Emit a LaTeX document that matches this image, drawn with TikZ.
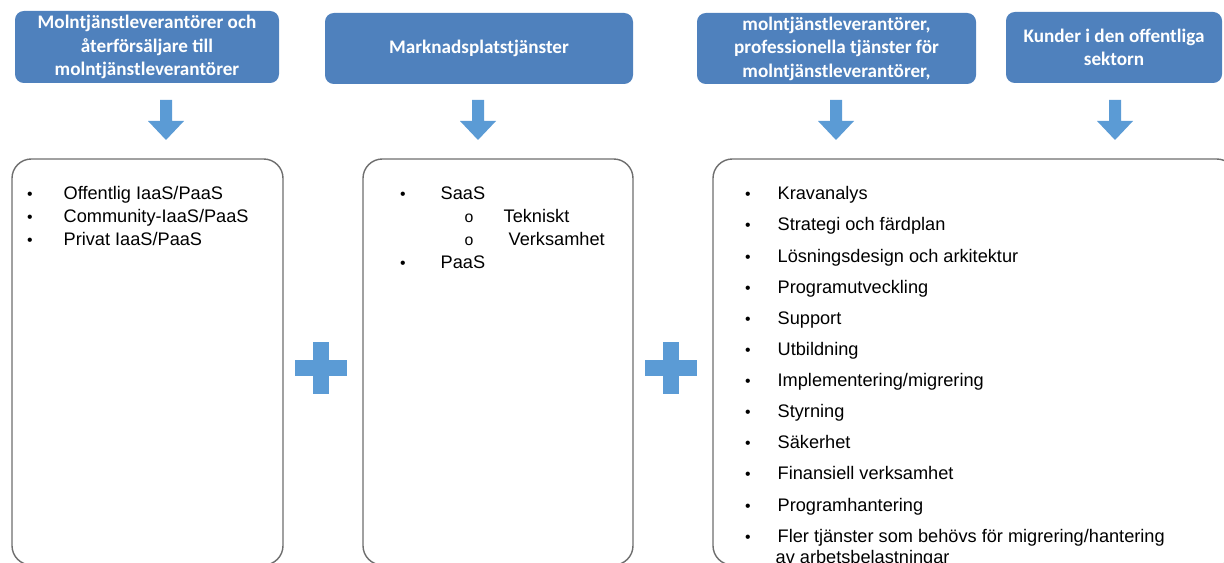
\documentclass[tikz,border=0pt]{standalone}
\usepackage{fontspec}
\setmainfont{Liberation Sans}
\newfontfamily\headfont{Carlito}
\usepackage{tikz}
\usetikzlibrary{positioning}
\definecolor{headblue}{HTML}{4F81BD}
\definecolor{lightblue}{HTML}{5B9BD5}
\definecolor{boxgray}{HTML}{6E6E6E}
\tikzset{every picture/.style={line width=0.75pt}}
\tikzset{
  head/.style={rounded corners=5pt, fill=headblue, draw=none, text=white,
    align=center, inner sep=0pt,
    font=\headfont\bfseries\fontsize{10.9}{13.4}\selectfont},
  listbox/.style={rounded corners=11pt, draw=boxgray, line width=0.8pt, fill=white},
  item/.style={anchor=base west, inner sep=0pt, font=\fontsize{10.35}{12}\selectfont},
  dot/.style={anchor=base, inner sep=0pt, font=\fontsize{9}{10}\selectfont},
  blockarrow/.style={fill=lightblue, draw=none}
}

\begin{document}
\begin{tikzpicture}[x=0.02cm, y=-0.02cm]
\useasboundingbox (0,0) rectangle (1224,563);
\clip (0,0) rectangle (1224,563);
%
\node[head, minimum width=264*0.02cm, minimum height=72*0.02cm] (h1) at (147,47)
  {Molntjänstleverantörer och\\återförsäljare till\\molntjänstleverantörer};
\node[head, minimum width=308*0.02cm, minimum height=71*0.02cm] (h2) at (479,48.5)
  {Marknadsplatstjänster};
\node[head, minimum width=279*0.02cm, minimum height=71*0.02cm] (h3) at (836.5,48.5)
  {molntjänstleverantörer,\\professionella tjänster för\\molntjänstleverantörer,};
\node[head, minimum width=216*0.02cm, minimum height=71*0.02cm] (h4) at (1114,47.5)
  {Kunder i den offentliga\\sektorn};
%
\draw[listbox] (12,159) rectangle (283,565);
\draw[listbox] (363,159) rectangle (633,565);
\draw[listbox] (713,159) rectangle (1236,565);
%
\foreach \X in {166,478,836,1115}
\fill[blockarrow] (\X-6,100) -- (\X+6,100) -- (\X+6,121) -- (\X+18,121)
  -- (\X,140) -- (\X-18,121) -- (\X-6,121) -- cycle;
%
\foreach \X in {321,671}{
\fill[lightblue] (\X-26,360) rectangle (\X+26,376);
\fill[lightblue] (\X-8,342) rectangle (\X+8,394);
}
%
\foreach \Y/\Text [count=\i] in {%
	193/{Offentlig IaaS/PaaS},
	216/{Community-IaaS/PaaS},
	239/{Privat IaaS/PaaS}%
    }{
\node[dot] (a\i b) at (30,\Y+7) {•};
\node[item] (a\i) at (63,\Y+7) {\Text};
}
%
\node[dot] (b1b) at (403,200) {•};
\node[item] (b1) at (440,200) {SaaS};
\node[dot] (b2b) at (469,223) {o};
\node[item] (b2) at (503,223) {Tekniskt};
\node[dot] (b3b) at (469,246) {o};
\node[item] (b3) at (508,246) {Verksamhet};
\node[dot] (b4b) at (403,269) {•};
\node[item] (b4) at (440,269) {PaaS};
%
\foreach \Y/\Text [count=\i] in {%
	193/Kravanalys,
	224/Strategi och färdplan,
	256/Lösningsdesign och arkitektur,
	287/Programutveckling,
	318/Support,
	349/Utbildning,
	380/{Implementering/migrering},
	411/Styrning,
	442/Säkerhet,
	473/Finansiell verksamhet,
	505/Programhantering,
	536/{Fler tjänster som behövs för migrering/hantering}%
    }{
\node[dot] (c\i b) at (748,\Y+7) {•};
\node[item] (c\i) at (777,\Y+7) {\Text};
}
\node[item] (c13) at (775,563) {av arbetsbelastningar};
\end{tikzpicture}
\end{document}
